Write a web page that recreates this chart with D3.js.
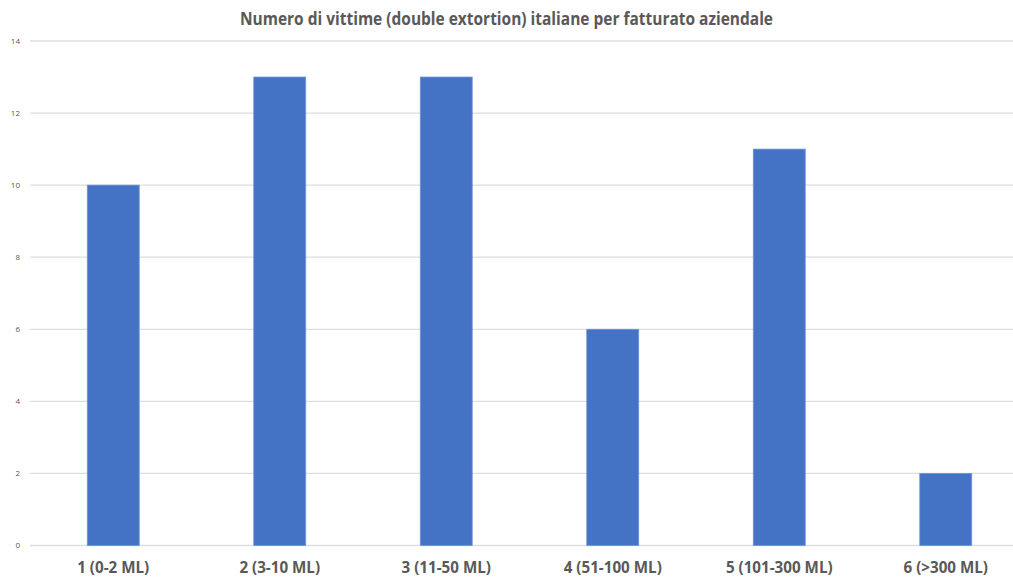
<!DOCTYPE html>
<html><head><meta charset="utf-8">
<script src="https://cdn.jsdelivr.net/npm/d3@7"></script>
<style>html,body{margin:0;padding:0;background:#fff;overflow:hidden}</style>
</head><body>
<svg id="chart" width="1013" height="578"></svg>
<script>
const title = "Numero di vittime (double extortion) italiane per fatturato aziendale";
const categories = ["1 (0-2 ML)", "2 (3-10 ML)", "3 (11-50 ML)", "4 (51-100 ML)", "5 (101-300 ML)", "6 (>300 ML)"];
const values = [10, 13, 13, 6, 11, 2];
const yTicks = [0, 2, 4, 6, 8, 10, 12, 14];

const svg = d3.select("#chart");
const font = "'Open Sans', 'Liberation Sans', sans-serif";
const grey = "#595959";

const x = d3.scaleBand().domain(categories).range([30, 1029]).padding(0);
const y = d3.scaleLinear().domain([0, 14]).range([545.5, 41]);
const barFrac = 0.312;

// gridlines
svg.append("g").selectAll("line").data(yTicks).join("line")
  .attr("x1", 30).attr("x2", 1013)
  .attr("y1", d => y(d)).attr("y2", d => y(d))
  .attr("stroke", "#dedede").attr("stroke-width", 1.3);

// y axis labels
const yAxis = d3.axisLeft(y).tickValues(yTicks).tickSize(0).tickPadding(0);
const yg = svg.append("g").attr("transform", "translate(20,0)").call(yAxis);
yg.select(".domain").remove();
yg.selectAll("text").attr("font-family", font).attr("font-size", 8).attr("fill", grey).attr("dy", "0.3em");

// bars
svg.append("g").selectAll("rect").data(values).join("rect")
  .attr("x", (d, i) => x(categories[i]) + x.bandwidth() * (1 - barFrac) / 2)
  .attr("width", x.bandwidth() * barFrac)
  .attr("y", d => y(d))
  .attr("height", d => y(0) - y(d))
  .attr("fill", "#4472C4")
  .attr("stroke", "#6f93d4").attr("stroke-width", 0.8);

// x axis labels
const xAxis = d3.axisBottom(x).tickSize(0).tickPadding(0);
const xg = svg.append("g").attr("transform", "translate(0,573)").call(xAxis);
xg.select(".domain").remove();
xg.selectAll("text").attr("font-family", font).attr("font-size", 15.2).attr("font-weight", "bold")
  .attr("fill", grey).attr("dy", 0);

// title
svg.append("text").attr("x", 506.5).attr("y", 25)
  .attr("text-anchor", "middle").attr("font-family", font)
  .attr("font-size", 17).attr("font-weight", "bold").attr("fill", grey)
  .attr("textLength", 533).attr("lengthAdjust", "spacingAndGlyphs")
  .text(title);
</script>
</body></html>
